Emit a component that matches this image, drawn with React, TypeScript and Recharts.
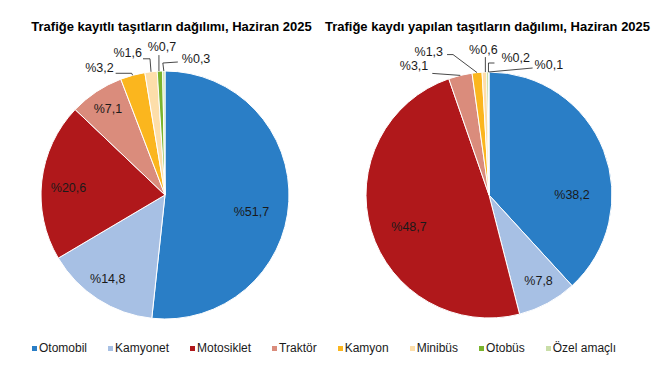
import React from 'react';
import { PieChart, Pie, Cell } from 'recharts';

const categories = ['Otomobil', 'Kamyonet', 'Motosiklet', 'Traktör', 'Kamyon', 'Minibüs', 'Otobüs', 'Özel amaçlı'];
const registeredShare = [51.7, 14.8, 20.6, 7.1, 3.2, 1.6, 0.7, 0.3];
const newlyRegisteredShare = [38.2, 7.8, 48.7, 3.1, 1.3, 0.6, 0.2, 0.1];
const sliceColors = ['#2A7EC6', '#A7C0E4', '#B0181B', '#DA8C7C', '#FBB61E', '#FDDEAA', '#7AB42D', '#C9DEA8'];
const chartTitles = [
  'Trafiğe kayıtlı taşıtların dağılımı, Haziran 2025',
  'Trafiğe kaydı yapılan taşıtların dağılımı, Haziran 2025',
];

const FONT = '"Liberation Sans", Arial, Helvetica, sans-serif';
const RAD = Math.PI / 180;

type Placement =
  | { kind: 'in'; radius: number; shift: number }
  | { kind: 'out'; line: [number, number][]; text: [number, number]; anchor: 'start' | 'middle' | 'end' };

// label layout (relative to slice geometry)
const leftPlacements: Placement[] = [
  { kind: 'in', radius: 0.71, shift: 8 },
  { kind: 'in', radius: 0.82, shift: 1.5 },
  { kind: 'in', radius: 0.78, shift: -2.3 },
  { kind: 'in', radius: 0.83, shift: 0 },
  { kind: 'out', line: [[0, 0], [-1, -2], [-17, -2]], text: [-19, -3], anchor: 'end' },
  { kind: 'out', line: [[0, 0], [-1, -13], [-8, -13]], text: [-9, -15], anchor: 'end' },
  { kind: 'out', line: [[-1, 0], [-1, -16]], text: [2, -20], anchor: 'middle' },
  { kind: 'out', line: [[0, 0], [-1, -8], [14, -9]], text: [18, -8], anchor: 'start' },
];

const rightPlacements: Placement[] = [
  { kind: 'in', radius: 0.675, shift: 21 },
  { kind: 'in', radius: 0.81, shift: -1.4 },
  { kind: 'in', radius: 0.7, shift: -5 },
  { kind: 'out', line: [[0, 0], [-28, -2]], text: [-32, -5], anchor: 'end' },
  { kind: 'out', line: [[0, 0], [-24, -18], [-30, -18]], text: [-34, -17], anchor: 'end' },
  { kind: 'out', line: [[1, 0], [1, -15]], text: [-1, -18], anchor: 'middle' },
  { kind: 'out', line: [[1, 0], [1, -9], [7, -9]], text: [14, -10], anchor: 'start' },
  { kind: 'out', line: [[0, 0], [44, -4]], text: [46, -3], anchor: 'start' },
];

const fmt = (v: number) => '%' + v.toFixed(1).replace('.', ',');

function makeLabel(values: number[], placements: Placement[]) {
  return (props: any) => {
    const { cx, cy, midAngle, outerRadius, index } = props;
    const p = placements[index];
    const txt = fmt(values[index]);
    if (p.kind === 'in') {
      const a = (midAngle - p.shift) * RAD;
      const r = outerRadius * p.radius;
      const x = cx + r * Math.cos(a);
      const y = cy - r * Math.sin(a);
      return (
        <text x={x} y={y} textAnchor="middle" dominantBaseline="central" fill="#1a1a1a" fontSize={12.5} fontFamily={FONT}>
          {txt}
        </text>
      );
    }
    const a = midAngle * RAD;
    const ex = cx + outerRadius * Math.cos(a);
    const ey = cy - outerRadius * Math.sin(a);
    const pts = p.line.map(([dx, dy]) => `${ex + dx},${ey + dy}`).join(' ');
    return (
      <g>
        <polyline points={pts} fill="none" stroke="#1a1a1a" strokeWidth={0.8} />
        <text x={ex + p.text[0]} y={ey + p.text[1]} textAnchor={p.anchor} fill="#1a1a1a" fontSize={12.5} fontFamily={FONT}>
          {txt}
        </text>
      </g>
    );
  };
}

const leftData = categories.map((name, i) => ({ name, value: registeredShare[i] }));
const rightData = categories.map((name, i) => ({ name, value: newlyRegisteredShare[i] }));

export default function App() {
  return (
    <div style={{ position: 'absolute', left: 0, top: 0, width: 663, height: 372, background: '#fff', fontFamily: FONT }}>
      <PieChart width={663} height={372} margin={{ top: 0, right: 0, bottom: 0, left: 0 }}>
        <Pie
          data={leftData}
          dataKey="value"
          nameKey="name"
          cx={165}
          cy={195}
          outerRadius={124}
          startAngle={90}
          endAngle={-270}
          stroke="#fff"
          strokeWidth={1}
          isAnimationActive={false}
          labelLine={false}
          label={makeLabel(registeredShare, leftPlacements)}
        >
          {leftData.map((_, i) => (
            <Cell key={i} fill={sliceColors[i]} />
          ))}
        </Pie>
        <Pie
          data={rightData}
          dataKey="value"
          nameKey="name"
          cx={489}
          cy={195}
          outerRadius={123}
          startAngle={90}
          endAngle={-270}
          stroke="#fff"
          strokeWidth={1}
          isAnimationActive={false}
          labelLine={false}
          label={makeLabel(newlyRegisteredShare, rightPlacements)}
        >
          {rightData.map((_, i) => (
            <Cell key={i} fill={sliceColors[i]} />
          ))}
        </Pie>
      </PieChart>
      <svg width={663} height={40} style={{ position: 'absolute', left: 0, top: 0, pointerEvents: 'none' }}>
        <text x={171.5} y={31} textAnchor="middle" fontSize={13} fontWeight="bold" fill="#000" fontFamily={FONT}>
          {chartTitles[0]}
        </text>
        <text x={487.5} y={31} textAnchor="middle" fontSize={13} fontWeight="bold" fill="#000" fontFamily={FONT}>
          {chartTitles[1]}
        </text>
      </svg>
      <div
        style={{
          position: 'absolute',
          left: 32,
          top: 341,
          display: 'flex',
          alignItems: 'center',
          gap: 21,
          fontSize: 12,
          lineHeight: '14px',
          color: '#1a1a1a',
          whiteSpace: 'nowrap',
        }}
      >
        {categories.map((c, i) => (
          <div key={c} style={{ display: 'flex', alignItems: 'center' }}>
            <span style={{ display: 'inline-block', width: 5, height: 5, background: sliceColors[i], marginRight: 2 }} />
            <span>{c}</span>
          </div>
        ))}
      </div>
    </div>
  );
}
